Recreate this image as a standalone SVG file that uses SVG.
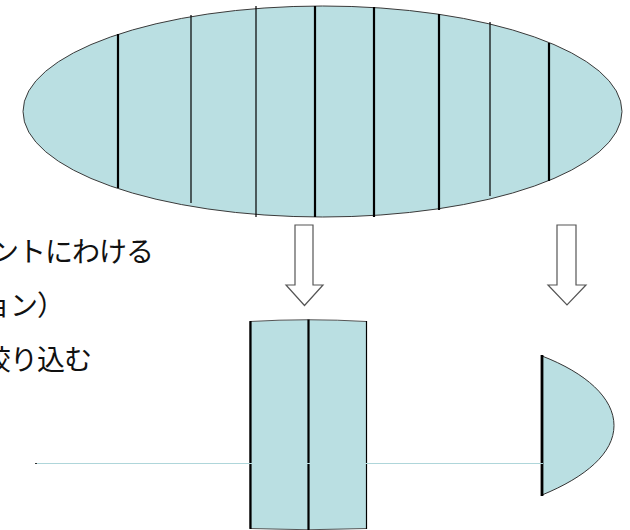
<svg xmlns="http://www.w3.org/2000/svg" width="630" height="530" viewBox="0 0 630 530">
<style>
.fill{fill:#BADFE2;stroke:#3a3a3a;stroke-width:1}
.thick{stroke:#000;stroke-width:2.2;fill:none}
.thin{stroke:#000;stroke-width:1.2;fill:none}
.arrow{fill:#fff;stroke:#555;stroke-width:1.2;stroke-linejoin:miter}
.lbl{font-family:"Noto Sans CJK JP","Noto Sans",sans-serif;font-size:28px;letter-spacing:-1px;fill:#111;text-anchor:end}
.axis{stroke:#AFD6DA;stroke-width:1}
</style>
<rect width="630" height="530" fill="#fff"/>
<g id="ellipse-lens">
<ellipse class="fill" cx="322.5" cy="111.5" rx="299.5" ry="105.5"/>
<line class="thick" x1="118" y1="34" x2="118" y2="188"/>
<line class="thin" x1="191" y1="15" x2="191" y2="203"/>
<line class="thin" x1="256" y1="6" x2="256" y2="217"/>
<line class="thick" x1="315" y1="6" x2="315" y2="217"/>
<line class="thick" x1="374" y1="7" x2="374" y2="217"/>
<line class="thick" x1="439" y1="14" x2="439" y2="210"/>
<line class="thin" x1="490" y1="22" x2="490" y2="196"/>
<line class="thick" x1="549" y1="43" x2="549" y2="181"/>
</g>
<g id="labels">
<text class="lbl" x="153" y="262">ントにわける</text>
<text class="lbl" x="64" y="316">ョン）</text>
<text class="lbl" x="91" y="370">絞り込む</text>
</g>
<g id="segment-lens">
<path d="M250,321.5 Q308,318 366.5,321.5 V528.5 Q308,531 250,528.5 Z" fill="#BADFE2" stroke="#555" stroke-width="1"/>
<line class="thick" x1="250.5" y1="321" x2="250.5" y2="529"/>
<line class="thick" x1="308.5" y1="319.5" x2="308.5" y2="530"/>
<line class="thin" x1="366.5" y1="321" x2="366.5" y2="529"/>
</g>
<g id="half-lens">
<path d="M542,356 C586,373 614,398 614,425.5 C614,453 586,477 542,495 Z" fill="#BADFE2" stroke="#333" stroke-width="1"/>
<line x1="542" y1="355" x2="542" y2="496" stroke="#000" stroke-width="2.8"/>
</g>
<g id="connectors">
<path class="arrow" d="M295,225 H313 V285 H323 L304.5,305.5 L286,285 H295 Z"/>
<path class="arrow" d="M557,225 H576 V285 H586 L567,305 L548,285 H557 Z"/>
<line class="axis" x1="35" y1="463.5" x2="250" y2="463.5"/>
<line x1="249" y1="463.5" x2="368" y2="463.5" stroke="#BADFE2" stroke-width="1"/>
<line class="axis" x1="367" y1="463.5" x2="543" y2="463.5"/>
<line x1="35" y1="463.5" x2="37" y2="463.5" stroke="#333" stroke-width="1"/>
</g>
</svg>
